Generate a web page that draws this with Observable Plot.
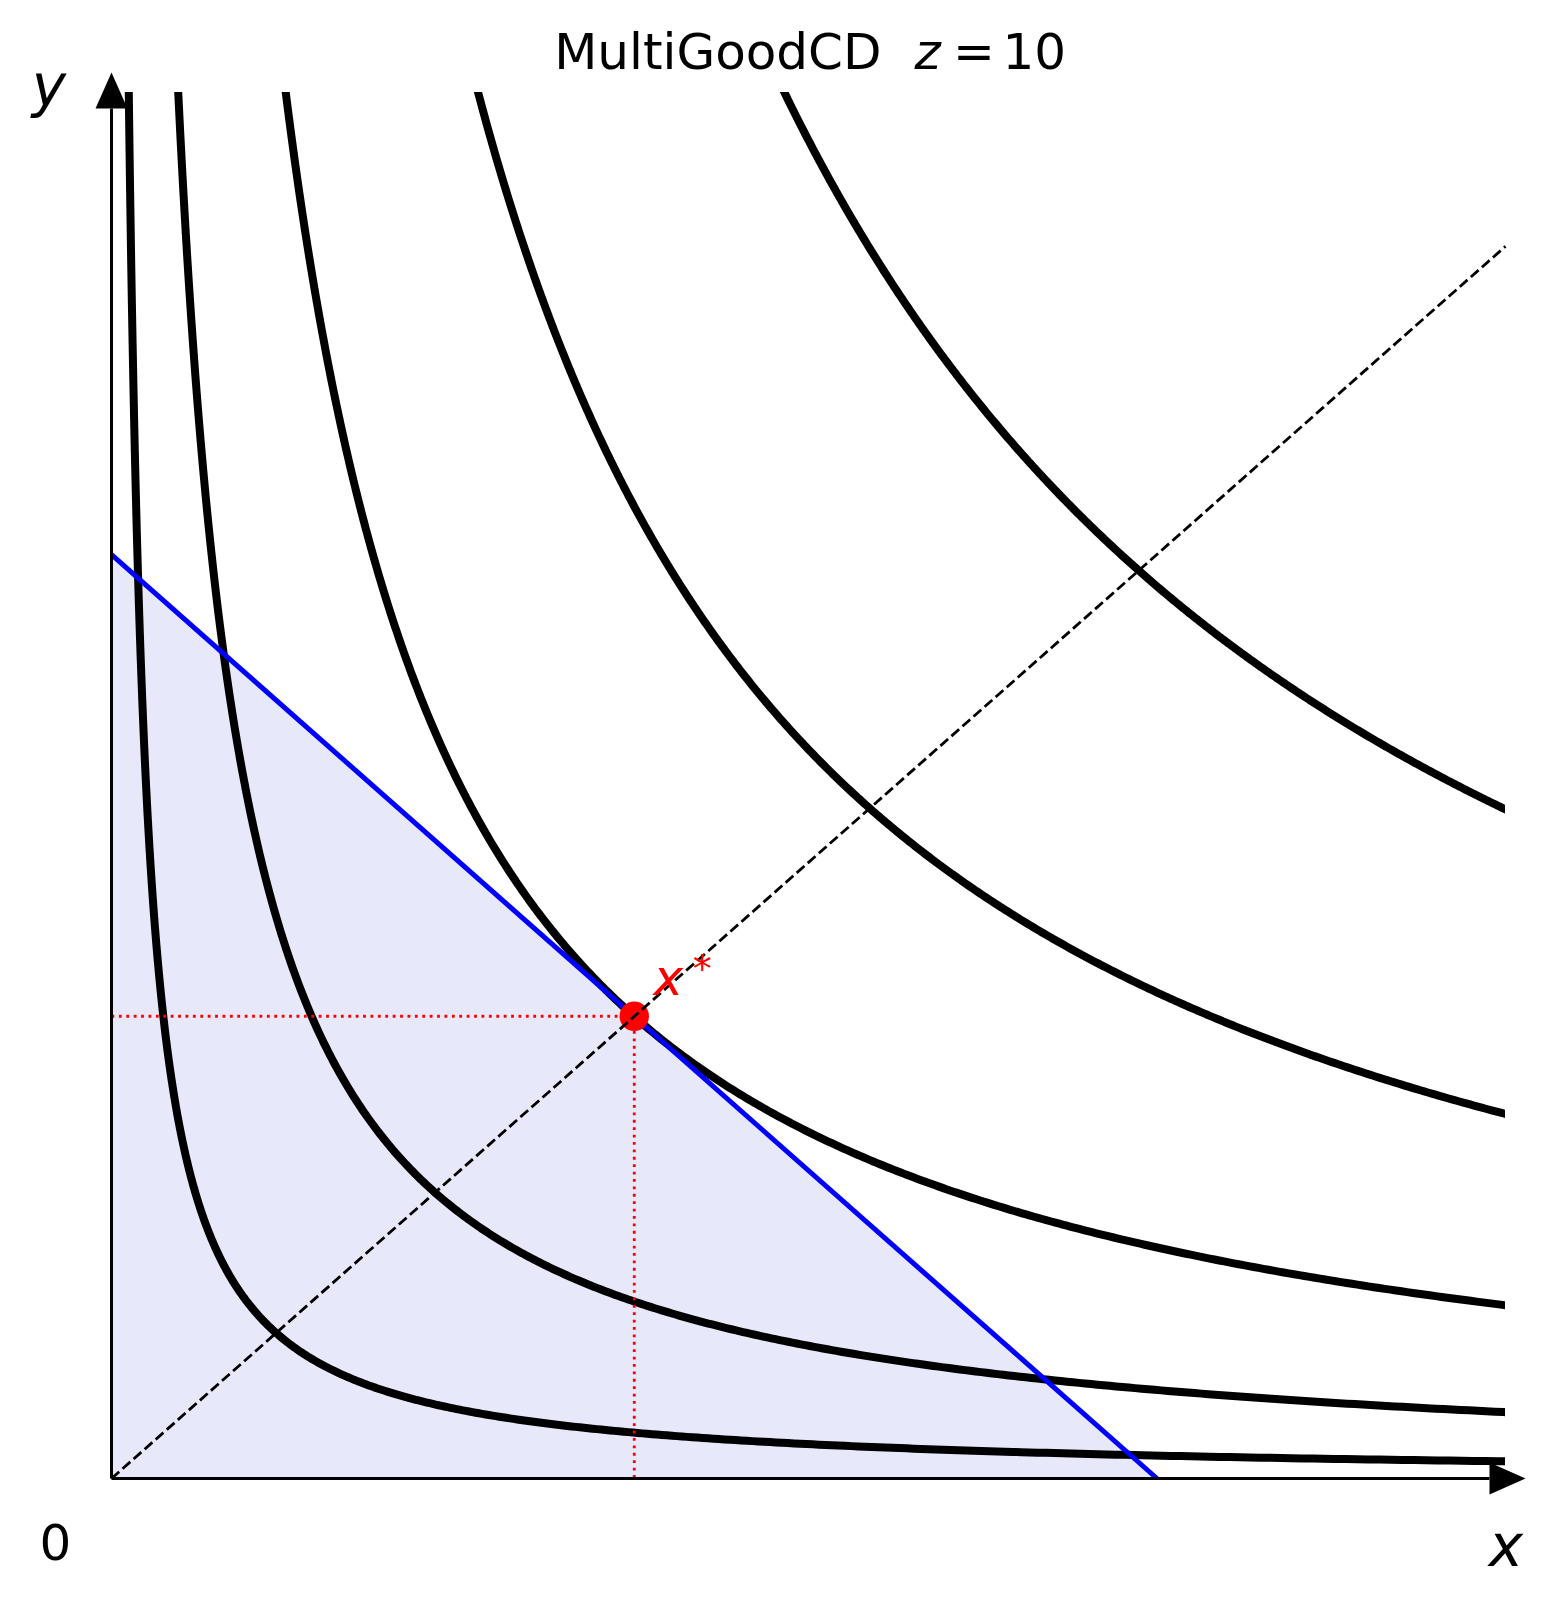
<!DOCTYPE html>
<html>
<head>
<meta charset="utf-8">
<script src="https://cdn.jsdelivr.net/npm/d3@7"></script>
<script src="https://cdn.jsdelivr.net/npm/@observablehq/plot@0.6"></script>
<style>
html, body { margin: 0; padding: 0; background: #fff; overflow: hidden; }
svg { display: block; }
</style>
</head>
<body>
<div id="chart"></div>
<script>
// ---- values ----
const zValue = 10;
const xDomain = [0, 20];
const yDomain = [0, 20];
const budgetX = [0, 15.0];      // budget line: x values
const budgetY = [13.33, 0];     // budget line: y values
const optimumX = [7.5];
const optimumY = [6.67];
const indifferenceLevels = [4.96, 19.15, 50, 105.2, 193.1]; // x·y along each curve
const expansionX = [0, 20];
const expansionY = [0, 17.78];
const axisEnd = [19.77];
const titleParts = ["MultiGoodCD", "z", "=", "10"];
const axisLabels = ["x", "y", "0"];

// ---- tables built from the arrays ----
const budget = budgetX.map((x, i) => ({x, y: budgetY[i]}));
const optimum = optimumX.map((x, i) => ({x, y: optimumY[i]}));
const expansion = expansionX.map((x, i) => ({x, y: expansionY[i]}));
const curves = indifferenceLevels.flatMap((c, i) => {
  const x0 = c / (yDomain[1] + 1), x1 = xDomain[1] + 1, n = 500;
  return d3.range(n + 1).map(k => {
    const x = x0 * Math.pow(x1 / x0, k / n);
    return {x, y: c / x, level: i};
  });
});
const hGuide = [{x: 0, y: optimumY[0]}, {x: optimumX[0], y: optimumY[0]}];
const vGuide = [{x: optimumX[0], y: optimumY[0]}, {x: optimumX[0], y: 0}];
const xAxisLine = [{x: 0, y: 0}, {x: axisEnd[0], y: 0}];
const yAxisLine = [{x: 0, y: 0}, {x: 0, y: axisEnd[0]}];

const arrowHead = {
  draw(ctx) {
    ctx.moveTo(0, -16);
    ctx.lineTo(36, 0);
    ctx.lineTo(0, 16);
    ctx.closePath();
  }
};

const font = "DejaVu Sans";

const chart = Plot.plot({
  width: 1554,
  height: 1607,
  marginLeft: 111,
  marginRight: 49,
  marginTop: 92,
  marginBottom: 129,
  x: {domain: xDomain, axis: null},
  y: {domain: yDomain, axis: null},
  style: {background: "white", fontFamily: font},
  marks: [
    Plot.areaY(budget, {x: "x", y: "y", fill: "#e8e8fb"}),
    Plot.line(curves, {x: "x", y: "y", z: "level", stroke: "black", strokeWidth: 8, strokeLinecap: "butt", clip: "frame", curve: "linear"}),
    Plot.line(budget, {x: "x", y: "y", stroke: "blue", strokeWidth: 5, strokeLinecap: "butt"}),
    Plot.line(hGuide, {x: "x", y: "y", stroke: "red", strokeWidth: 2.8, strokeDasharray: "2.8,4.6", strokeLinecap: "butt"}),
    Plot.line(vGuide, {x: "x", y: "y", stroke: "red", strokeWidth: 2.8, strokeDasharray: "2.8,4.6", strokeLinecap: "butt"}),
    Plot.dot(optimum, {x: "x", y: "y", r: 14.7, fill: "red", stroke: "none"}),
    Plot.line(expansion, {x: "x", y: "y", stroke: "black", strokeWidth: 2.8, strokeDasharray: "10.3,4.45", strokeLinecap: "butt"}),
    Plot.line(xAxisLine, {x: "x", y: "y", stroke: "black", strokeWidth: 3, strokeLinecap: "butt"}),
    Plot.line(yAxisLine, {x: "x", y: "y", stroke: "black", strokeWidth: 3, strokeLinecap: "butt"}),
    Plot.dot(axisEnd, {x: d => d, y: () => 0, symbol: arrowHead, fill: "black", stroke: "none"}),
    Plot.dot(axisEnd, {x: () => 0, y: d => d, symbol: arrowHead, rotate: -90, fill: "black", stroke: "none"}),
    // x* label
    Plot.text(optimum, {x: "x", y: "y", text: () => "x", dx: 34, dy: -21, textAnchor: "middle", lineAnchor: "bottom", fontSize: 50, fontStyle: "italic", fill: "red"}),
    Plot.text(optimum, {x: "x", y: "y", text: () => "*", dx: 68, dy: -34.5, textAnchor: "middle", lineAnchor: "bottom", fontSize: 38, fill: "red"}),
    // title
    Plot.text([titleParts[0]], {frameAnchor: "top", dx: 73, dy: -24, textAnchor: "end", lineAnchor: "bottom", fontSize: 50, fill: "black"}),
    Plot.text([titleParts[1]], {frameAnchor: "top", dx: 106, dy: -24, textAnchor: "start", lineAnchor: "bottom", fontSize: 50, fontStyle: "italic", fill: "black"}),
    Plot.text([titleParts[2]], {frameAnchor: "top", dx: 144.5, dy: -24, textAnchor: "start", lineAnchor: "bottom", fontSize: 50, fill: "black"}),
    Plot.text([titleParts[3]], {frameAnchor: "top", dx: 194, dy: -24, textAnchor: "start", lineAnchor: "bottom", fontSize: 50, fill: "black"}),
    // axis labels
    Plot.text([axisLabels[0]], {frameAnchor: "bottom-right", dx: 0.5, dy: 87, textAnchor: "middle", lineAnchor: "bottom", fontSize: 58, fontStyle: "italic", fill: "black"}),
    Plot.text([axisLabels[1]], {frameAnchor: "top-left", dx: -62.5, dy: 13.7, textAnchor: "middle", lineAnchor: "bottom", fontSize: 58, fontStyle: "italic", fill: "black"}),
    Plot.text([axisLabels[2]], {frameAnchor: "bottom-left", dx: -56, dy: 81.5, textAnchor: "middle", lineAnchor: "bottom", fontSize: 50, fill: "black"})
  ]
});
document.getElementById("chart").appendChild(chart);
</script>
</body>
</html>
